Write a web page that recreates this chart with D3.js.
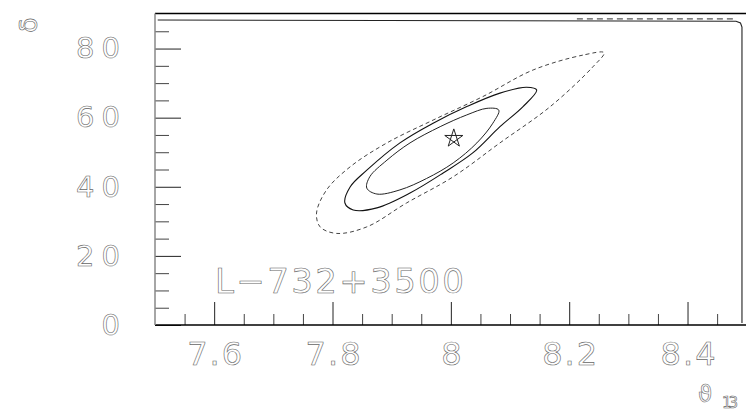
<!DOCTYPE html>
<html>
<head>
<meta charset="utf-8">
<script src="https://cdn.jsdelivr.net/npm/d3@7"></script>
<style>
  body { margin: 0; background: #fff; }
  svg text { font-family: "DejaVu Sans", sans-serif; fill: none; stroke: #666; stroke-width: 0.6; }
</style>
</head>
<body>
<svg id="chart" width="746" height="417"></svg>
<script>
// tick values
const thetaTicks = [7.6, 7.8, 8, 8.2, 8.4];
const deltaTicks = [0, 20, 40, 60, 80];

// contours, [theta13, delta]
const outerContour = [
  [8.259, 78.8], [8.223, 78.1], [8.139, 73.8], [8.054, 66.1], [7.970, 59.3],
  [7.892, 52.7], [7.830, 45.8], [7.790, 39.1], [7.773, 32.4], [7.779, 28.4],
  [7.807, 26.5], [7.858, 28.4], [7.925, 35.3], [8.004, 42.9], [8.083, 52.7],
  [8.168, 63.2], [8.240, 74.7]
];
const middleContour = [
  [8.145, 68.0], [8.128, 68.8], [8.083, 67.1], [8.027, 63.2], [7.970, 58.4],
  [7.914, 52.7], [7.858, 44.8], [7.830, 40.0], [7.821, 35.3], [7.835, 33.3],
  [7.875, 33.9], [7.931, 38.2], [7.987, 44.0], [8.037, 49.8], [8.083, 57.4],
  [8.122, 63.2]
];
const innerContour = [
  [8.081, 62.2], [8.061, 62.7], [8.027, 60.8], [7.982, 57.4], [7.931, 52.7],
  [7.892, 47.7], [7.863, 42.9], [7.858, 39.6], [7.875, 37.9], [7.914, 39.1],
  [7.959, 42.4], [8.004, 46.9], [8.044, 52.7], [8.071, 58.4]
];
// contour running along the upper and right edges
const edgeContour = [[7.5046, 88.25], [8.482, 87.9], [8.4895, 87.4], [8.492, 86.2], [8.492, 0.6]];
const edgeDashed = [[8.213, 88.6], [8.477, 88.6]];
const bestFit = [8.005, 54.0];

const width = 746, height = 417;
const svg = d3.select("#chart");

const x = d3.scaleLinear().domain([7.5, 8.5]).range([155, 746.7]);
const y = d3.scaleLinear().domain([0, 90]).range([325, 14]);

const thetaMinor = d3.range(7.55, 8.5, 0.05).filter(v => !thetaTicks.some(t => Math.abs(t - v) < 1e-6));
const deltaMinor = d3.range(5, 90, 5).filter(v => v % 20 !== 0);

// --- ticks x ---
svg.append("g").attr("transform", `translate(0,${y(0)})`).attr("color", "#444")
  .call(d3.axisBottom(x).tickValues(thetaMinor).tickSize(-11).tickFormat(""))
  .call(g => g.select(".domain").remove());
const gx = svg.append("g").attr("transform", `translate(0,${y(0)})`).attr("color", "#222")
  .call(d3.axisBottom(x).tickValues(thetaTicks).tickSize(-23).tickPadding(17).tickFormat(d => String(d)))
  .call(g => g.select(".domain").remove());
gx.selectAll("text").style("font-size", "32px")
  .each(function(d) { if (String(d).length > 1) d3.select(this).attr("textLength", 55).attr("lengthAdjust", "spacing"); });

// --- ticks y ---
svg.append("g").attr("transform", `translate(${x(7.5)},0)`).attr("color", "#444")
  .call(d3.axisLeft(y).tickValues(deltaMinor).tickSize(-14).tickFormat(""))
  .call(g => g.select(".domain").remove());
const gy = svg.append("g").attr("transform", `translate(${x(7.5)},0)`).attr("color", "#222")
  .call(d3.axisLeft(y).tickValues(deltaTicks).tickSize(-26).tickPadding(35).tickFormat(d => String(d)))
  .call(g => g.select(".domain").remove());
gy.selectAll("text").style("font-size", "29px")
  .each(function(d) { if (String(d).length > 1) d3.select(this).attr("textLength", 44).attr("lengthAdjust", "spacing"); });

// --- frame ---
svg.append("line").attr("x1", 155).attr("x2", width).attr("y1", 13.5).attr("y2", 13.5)
  .attr("stroke", "#000").attr("stroke-width", 1.5);
svg.append("line").attr("x1", 155).attr("x2", width).attr("y1", y(0)).attr("y2", y(0))
  .attr("stroke", "#000").attr("stroke-width", 1.5);
svg.append("line").attr("x1", 155).attr("x2", 155).attr("y1", 13.5).attr("y2", y(0))
  .attr("stroke", "#888").attr("stroke-width", 1.5);

// --- contours ---
const closed = d3.line().x(d => x(d[0])).y(d => y(d[1])).curve(d3.curveCatmullRomClosed.alpha(0.5));
const open = d3.line().x(d => x(d[0])).y(d => y(d[1]));

svg.append("path").attr("d", closed(outerContour)).attr("fill", "none")
  .attr("stroke", "#444").attr("stroke-width", 1).attr("stroke-dasharray", "4,3");
svg.append("path").attr("d", closed(middleContour)).attr("fill", "none")
  .attr("stroke", "#111").attr("stroke-width", 1.1);
svg.append("path").attr("d", closed(innerContour)).attr("fill", "none")
  .attr("stroke", "#222").attr("stroke-width", 1);
svg.append("path").attr("d", open(edgeContour)).attr("fill", "none")
  .attr("stroke", "#222").attr("stroke-width", 1.1);
svg.append("path").attr("d", open(edgeDashed)).attr("fill", "none")
  .attr("stroke", "#555").attr("stroke-width", 1.2).attr("stroke-dasharray", "6,4");

// --- best fit star (pentagram) ---
const cx = x(bestFit[0]), cy = y(bestFit[1]), r = 9.5;
const pts = d3.range(5).map(i => {
  const a = -Math.PI / 2 + i * 2 * Math.PI / 5;
  return [cx + r * Math.cos(a), cy + r * Math.sin(a)];
});
const order = [0, 2, 4, 1, 3];
svg.append("path").attr("d", "M" + order.map(i => pts[i].join(",")).join("L") + "Z")
  .attr("fill", "none").attr("stroke", "#222").attr("stroke-width", 1);

// --- labels ---
svg.append("text").attr("x", 215).attr("y", 292.7).style("font-size", "34px")
  .attr("textLength", 249).attr("lengthAdjust", "spacing").text("L\u2212732+3500");

svg.append("text").attr("transform", "translate(37,25) rotate(-90)").attr("text-anchor", "middle")
  .style("font-size", "25px").text("δ");

svg.append("text").attr("x", 698).attr("y", 402).style("font-size", "23px").text("ϑ");
svg.append("text").attr("x", 722).attr("y", 408).style("font-size", "15px")
  .attr("textLength", 16).attr("lengthAdjust", "spacing").text("13");
</script>
</body>
</html>
